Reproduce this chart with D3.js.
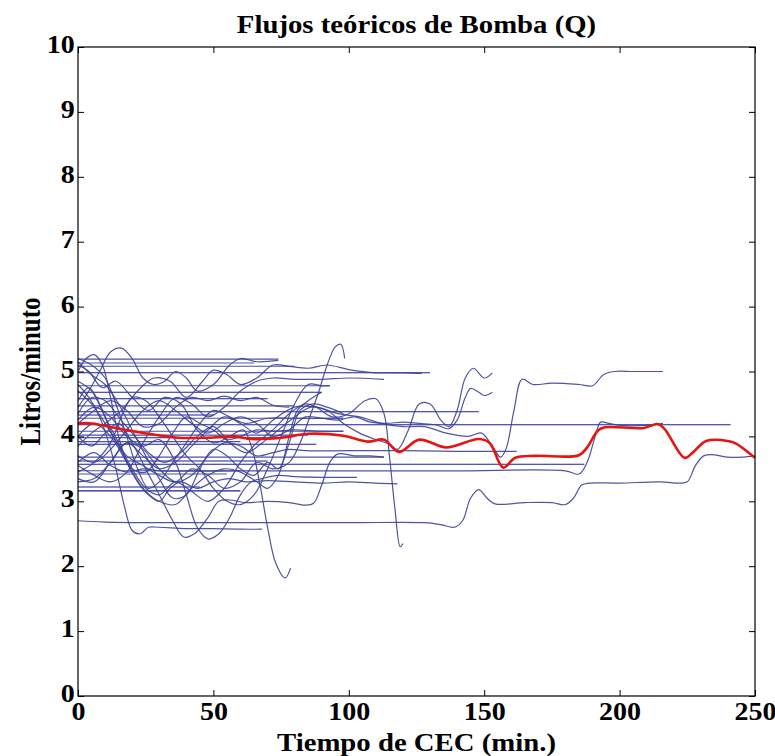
<!DOCTYPE html>
<html><head><meta charset="utf-8">
<script src="https://cdn.jsdelivr.net/npm/d3@7"></script>
<style>
body{margin:0;background:#fff;}
svg text{font-family:"Liberation Serif","Times New Roman",serif;font-weight:bold;fill:#000;}
</style></head>
<body><svg id="chart" width="775" height="756"></svg>
<script>
// ---------- data ----------
const titleText = "Flujos teóricos de Bomba (Q)";
const xLabelText = "Tiempo de CEC (min.)";
const yLabelText = "Litros/minuto";
const xTicks = [0, 50, 100, 150, 200, 250];
const yTicks = [0, 1, 2, 3, 4, 5, 6, 7, 8, 9, 10];

// flat (mean) lines per case: level (L/min) and end time (min)
const flatLevels = [5.08, 4.98, 4.78, 4.68, 4.47, 4.38, 4.28, 4.18, 4.08, 3.88, 3.68, 3.57, 3.47, 3.16, 5.19, 3.98, 5.13, 4.58, 4.02, 3.62, 3.42, 3.22, 3.92, 4.33];
const flatEnds   = [80,   130,  93,   90,   80,   148,  98,   241,  98,   88,   113,  187,  60,   60,   74,   75,   65,   70,   85,   70,   55,   45,   60,   50];

// individual case curves: [time, flow]
const case01 = [[0,4.55],[4,4.75],[8,4.5],[13,4.0],[18,3.7],[24,3.55],[30,3.4],[36,3.3],[42,3.5],[48,3.4],[54,3.2],[60,3.3],[66,3.6],[72,3.5],[78,3.6],[82,3.9],[86,4.35],[89,4.7],[92,5.1],[95,5.38],[97,5.42],[98.5,5.2]];
const case02 = [[0,5.1],[4,5.0],[9,4.75],[14,4.85],[20,4.6],[26,4.4],[32,4.6],[38,4.5],[44,4.1],[50,3.9],[56,4.0],[61,4.1],[64,3.85],[67,3.3],[70,2.6],[73,2.05],[76.5,1.82],[78.5,1.97]];
const case03 = [[0,4.85],[5,4.7],[10,4.3],[15,3.9],[20,3.5],[25,3.2],[30,3.1],[36,3.3],[42,3.15],[48,3.0],[54,3.2],[60,3.6],[66,3.9],[72,4.1],[78,4.35],[84,4.5],[88,4.45],[94,4.3],[100,4.35],[106,4.55],[110,4.58],[113,4.35],[115,3.7],[117,2.9],[119,2.3],[120,2.35]];
const case04 = [[0,4.35],[5,4.6],[10,4.55],[15,4.3],[20,4.05],[26,3.75],[32,3.6],[38,3.75],[44,4.0],[50,4.15],[56,3.9],[62,3.75],[68,3.9],[74,4.1],[80,4.3],[86,4.45],[92,4.4],[98,4.2],[104,4.05],[110,3.95],[115,3.88],[118,3.8],[122,4.1],[126,4.5],[130,4.5],[134,4.25],[137,4.15],[140,4.4],[143,4.9],[146,5.05],[150,4.9],[153,4.98]];
const case05 = [[0,3.7],[6,3.6],[12,3.8],[18,4.1],[24,4.4],[30,4.55],[36,4.4],[42,4.2],[48,4.05],[54,4.2],[60,4.3],[66,4.2],[72,4.0],[78,4.1],[84,4.3],[90,4.28],[96,4.25],[102,4.3],[108,4.22],[114,4.2],[120,4.22],[126,4.2],[132,4.18],[137,4.12],[140,4.25],[143,4.6],[145,4.74],[148,4.68],[150,4.63],[153,4.68]];
const case06 = [[0,3.35],[6,3.3],[12,3.6],[18,3.9],[24,3.7],[30,3.5],[36,3.6],[42,3.85],[48,4.1],[54,4.3],[60,4.2],[66,4.05],[72,4.25],[80,4.45],[88,4.45],[96,4.35],[104,4.3],[112,4.2],[120,4.15],[128,4.15],[136,4.05],[144,4.0],[149,4.05],[153,3.85],[156,3.68],[158,3.8],[161,4.4],[164,4.88],[168,4.8],[175,4.82],[185,4.8],[190,4.78],[194,4.95],[198,5.0],[205,5.0],[216,5.0]];
const case07 = [[0,3.6],[6,3.75],[12,3.55],[18,3.45],[24,3.5],[30,3.47],[60,3.47],[100,3.47],[140,3.47],[180,3.47],[185,3.42],[188,3.6],[191,4.0],[193,4.22],[196,4.2],[200,4.17],[210,4.17],[216,4.2]];
const case08 = [[0,2.7],[10,2.68],[30,2.67],[60,2.67],[100,2.67],[128,2.67],[134,2.64],[139,2.6],[142,2.7],[145,3.05],[148,3.18],[151,3.05],[154,2.96],[165,2.98],[175,2.98],[180,2.95],[183,3.05],[186,3.25],[189,3.28],[200,3.28],[215,3.3],[222,3.28],[225,3.3],[228,3.55],[231,3.7],[234,3.72],[240,3.68],[245,3.68],[250,3.7]];
const case09 = [[0,4.0],[5,3.85],[10,4.05],[15,4.2],[20,3.9],[25,3.5],[30,3.1],[35,2.7],[39,2.45],[43,2.5],[48,2.75],[52,3.0],[56,3.02],[62,2.98],[70,3.0],[78,2.98],[84,2.94],[87,2.97],[90,3.25],[93,3.6],[96,3.73],[102,3.7],[108,3.7],[113,3.68]];
const case10 = [[0,4.8],[4,4.6],[8,4.3],[11,3.95],[14,3.5],[17,2.95],[20,2.55],[23,2.5],[26,2.6],[30,2.6],[40,2.58],[50,2.58],[60,2.57],[68,2.57]];
const case11 = [[0,4.45],[4,4.7],[8,5.0],[12,5.3],[16,5.36],[20,5.2],[24,4.9],[28,4.8],[32,4.85],[36,5.0],[40,4.9],[44,4.7],[50,4.8],[56,5.1],[60,5.2],[66,5.15],[74,5.17]];
const case12 = [[0,5.0],[3,5.2],[6,5.26],[9,5.1],[12,4.6],[15,4.0],[18,3.6],[22,3.3],[26,3.1],[30,3.0],[34,3.2],[38,3.3],[44,3.2],[50,3.3],[56,3.35],[62,3.3],[70,3.32],[80,3.3],[90,3.28],[100,3.3],[110,3.28],[118,3.27]];
const case13 = [[0,3.85],[5,4.05],[10,4.2],[16,4.4],[22,4.7],[28,4.9],[34,4.85],[40,4.6],[46,4.85],[50,5.02],[55,4.95],[60,4.8],[66,4.9],[72,5.1],[78,5.08],[85,5.05],[92,5.1],[100,5.03],[110,4.98],[120,4.98],[127,4.97]];
const case14 = [[0,5.15],[5,4.95],[10,4.8],[15,4.5],[20,4.1],[25,3.7],[30,3.35],[35,3.05],[40,3.1],[45,3.5],[50,3.8],[55,3.7],[60,3.5],[65,3.4],[70,3.6],[74,3.5],[78,3.9],[82,4.4],[87,4.5],[92,4.45],[98,4.35]];
const case15 = [[0,4.2],[6,4.4],[12,4.55],[18,4.4],[24,4.15],[30,4.2],[36,4.45],[42,4.6],[48,4.55],[54,4.62],[60,4.55],[66,4.6],[72,4.48],[78,4.45]];
const case16 = [[0,4.25],[6,4.45],[12,4.3],[18,4.0],[24,3.85],[30,3.95],[36,3.6],[40,3.1],[44,2.6],[48,2.42],[52,2.5],[56,2.75],[60,3.1],[64,3.3],[68,3.35],[74,3.4],[80,3.38],[90,3.37],[103,3.37]];
const case17 = [[0,3.55],[6,3.4],[12,3.3],[18,3.45],[24,3.9],[30,4.3],[36,4.6],[42,4.5],[48,4.3],[54,4.45],[60,4.7],[66,4.85],[72,4.9],[80,4.88],[90,4.88],[100,4.9],[113,4.88]];
const case18 = [[0,3.3],[6,3.35],[12,3.6],[18,3.9],[24,3.8],[30,3.5],[36,3.3],[42,3.4],[48,3.7],[54,3.9],[60,3.85],[66,3.7],[72,3.75],[78,3.8],[84,3.78],[100,3.78],[120,3.78],[140,3.77],[162,3.77]];
const case19 = [[0,4.7],[5,4.5],[10,4.2],[15,3.85],[20,3.5],[25,3.45],[30,3.7],[35,4.05],[40,4.3],[45,4.2],[50,4.1],[55,3.95],[60,4.0],[66,4.1],[72,4.08],[80,4.1],[90,4.08],[98,4.08]];
const case20 = [[0,4.0],[6,4.2],[12,4.0],[18,3.6],[24,3.2],[30,3.0],[36,2.95],[42,3.2],[48,3.4],[54,3.5],[60,3.45],[66,3.3],[70,3.2],[74,3.4],[78,4.0],[81,4.4],[85,4.55],[90,4.68]];
const case21 = [[0,5.2],[5,5.1],[10,4.9],[14,4.5],[18,4.0],[22,3.5],[26,3.2],[30,3.3],[35,3.6],[40,3.9],[45,4.2],[50,4.4],[56,4.3],[62,4.2],[70,4.28],[80,4.28],[98,4.28]];
const case22 = [[0,3.45],[6,3.6],[12,3.9],[16,4.3],[20,4.6],[25,4.55],[30,4.3],[35,4.0],[40,3.7],[45,3.5],[50,3.2],[55,3.0],[60,2.95],[65,3.1],[70,3.5],[75,4.0],[80,4.5],[85,4.8],[90,4.78],[93,4.78]];
const cases = [case01,case02,case03,case04,case05,case06,case07,case08,case09,case10,case11,case12,case13,case14,case15,case16,case17,case18,case19,case20,case21,case22];

// mean flow (red)
const meanTimes = [0,5,15,26,37,48,58,64,75,85,98,107,113,118.5,126,136,148,152,157,161.5,169,185,188,192,194.5,209,214,216.5,224,227,232,240,243,250];
const meanFlow  = [4.2,4.2,4.12,4.04,3.98,3.98,4.0,3.96,3.98,4.04,4.01,3.92,3.95,3.76,3.95,3.83,3.96,3.9,3.52,3.67,3.7,3.71,3.83,4.09,4.14,4.13,4.19,4.12,3.67,3.75,3.93,3.93,3.89,3.67];

// ---------- chart ----------
const W = 775, H = 756;
const m = {left: 78, right: 20, top: 47, bottom: 60};
const iw = W - m.left - m.right, ih = H - m.top - m.bottom;
const svg = d3.select("#chart");
const g = svg.append("g").attr("transform", `translate(${m.left},${m.top})`);

const x = d3.scaleLinear().domain([0, 250]).range([0, iw]);
const y = d3.scaleLinear().domain([0, 10]).range([ih, 0]);

const line = d3.line().x(d => x(d[0])).y(d => y(d[1]));
const smooth = d3.line().x(d => x(d[0])).y(d => y(d[1])).curve(d3.curveCatmullRom.alpha(0.5));

const plot = g.append("g");
flatLevels.forEach((lv, i) => {
  plot.append("path").attr("d", line([[0, lv], [flatEnds[i], lv]]))
    .attr("fill", "none").attr("stroke", i % 2 ? "#1e1e9c" : "#4d52a6").attr("stroke-width", 1.1);
});
cases.forEach(c => {
  plot.append("path").attr("d", smooth(c))
    .attr("fill", "none").attr("stroke", "#3c4198").attr("stroke-opacity", 0.9).attr("stroke-width", 1.2);
});
plot.append("path").attr("d", smooth(meanTimes.map((t, i) => [t, meanFlow[i]])))
  .attr("fill", "none").attr("stroke", "#e8140f").attr("stroke-width", 2.6);

// axes (inward ticks, box)
const SX = 1.12;
const fs = "25px";
const ax = g.append("g").attr("transform", `translate(0,${ih})`)
  .call(d3.axisBottom(x).tickValues(xTicks).tickSize(-6).tickPadding(6).tickFormat(d3.format("d")));
const ay = g.append("g")
  .call(d3.axisLeft(y).tickValues(yTicks).tickSize(-6).tickPadding(3).tickFormat(d3.format("d")));
const at = g.append("g").call(d3.axisTop(x).tickValues(xTicks).tickSize(-6).tickFormat(""));
const ar = g.append("g").attr("transform", `translate(${iw},0)`).call(d3.axisRight(y).tickValues(yTicks).tickSize(-6).tickFormat(""));
[ax, ay, at, ar].forEach(a => {
  a.select(".domain").remove();
  a.selectAll("line").attr("stroke", "#000").attr("stroke-width", 1);
});
[ax, ay].forEach(a => a.selectAll("text")
  .style("font-size", fs).style("font-weight", "bold")
  .style("font-family", '"Liberation Serif","Times New Roman",serif')
  .attr("fill", "#000").attr("transform", `scale(${SX},1)`));
ay.selectAll("text").attr("dy", "0.22em");
g.append("rect").attr("width", iw).attr("height", ih)
  .attr("fill", "none").attr("stroke", "#000").attr("stroke-width", 1.2);

// titles
svg.append("text").attr("transform", `translate(${m.left + iw / 2},33) scale(1.15,1)`)
  .attr("text-anchor", "middle").style("font-size", fs).text(titleText);
svg.append("text").attr("transform", `translate(${m.left + iw / 2},751) scale(1.15,1)`)
  .attr("text-anchor", "middle").style("font-size", fs).text(xLabelText);
svg.append("text").attr("transform", `translate(40,${m.top + ih / 2}) scale(1.15,1) rotate(-90)`)
  .attr("text-anchor", "middle").style("font-size", fs).text(yLabelText);
</script></body></html>
